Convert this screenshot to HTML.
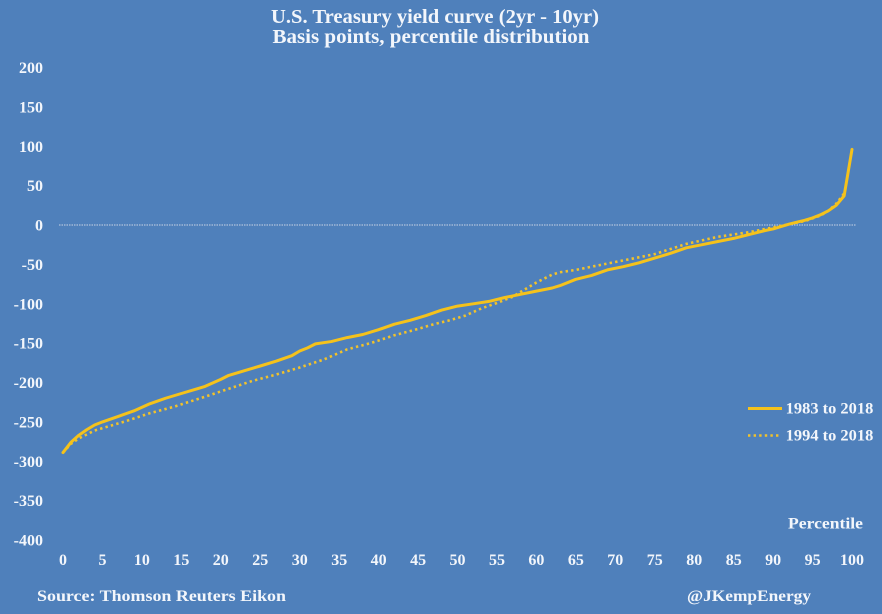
<!DOCTYPE html>
<html>
<head>
<meta charset="utf-8">
<style>
  html, body { margin:0; padding:0; background:#4f80bb; }
  svg { display:block; }
  text { font-family:"Liberation Serif", serif; font-weight:bold; fill:#f3f6fb; }
</style>
</head>
<body>
<svg width="882" height="614" viewBox="0 0 882 614" xmlns="http://www.w3.org/2000/svg">
  <rect x="0" y="0" width="882" height="614" fill="#4f80bb"/>

  <!-- Title -->
  <text x="435" y="23" font-size="20.5" text-anchor="middle" textLength="328" lengthAdjust="spacingAndGlyphs">U.S. Treasury yield curve (2yr - 10yr)</text>
  <text x="431" y="43" font-size="20.5" text-anchor="middle" textLength="317" lengthAdjust="spacingAndGlyphs">Basis points, percentile distribution</text>

  <!-- Y axis labels -->
  <g font-size="16" text-anchor="end">
    <text x="43" y="73">200</text>
    <text x="43" y="112.4">150</text>
    <text x="43" y="151.8">100</text>
    <text x="43" y="191.1">50</text>
    <text x="43" y="230.5">0</text>
    <text x="43" y="269.9">-50</text>
    <text x="43" y="309.3">-100</text>
    <text x="43" y="348.6">-150</text>
    <text x="43" y="388">-200</text>
    <text x="43" y="427.4">-250</text>
    <text x="43" y="466.8">-300</text>
    <text x="43" y="506.1">-350</text>
    <text x="43" y="545.5">-400</text>
  </g>

  <!-- X axis labels -->
  <g font-size="16" text-anchor="middle">
    <text x="63" y="565">0</text>
    <text x="102.5" y="565">5</text>
    <text x="141.9" y="565">10</text>
    <text x="181.4" y="565">15</text>
    <text x="220.8" y="565">20</text>
    <text x="260.3" y="565">25</text>
    <text x="299.7" y="565">30</text>
    <text x="339.2" y="565">35</text>
    <text x="378.6" y="565">40</text>
    <text x="418.1" y="565">45</text>
    <text x="457.5" y="565">50</text>
    <text x="497" y="565">55</text>
    <text x="536.4" y="565">60</text>
    <text x="575.9" y="565">65</text>
    <text x="615.3" y="565">70</text>
    <text x="654.8" y="565">75</text>
    <text x="694.2" y="565">80</text>
    <text x="733.7" y="565">85</text>
    <text x="773.1" y="565">90</text>
    <text x="812.6" y="565">95</text>
    <text x="852" y="565">100</text>
  </g>

  <!-- Zero line -->
  <line x1="59" y1="225" x2="856" y2="225" stroke="#c9d3e4" stroke-width="1" stroke-dasharray="1.5 1"/>

  <!-- 1994 to 2018 dotted -->
  <polyline fill="none" stroke="#f2c22a" stroke-width="2.6" stroke-dasharray="2.4 3.2" stroke-linejoin="round"
    points="63,452.6 70.89,443.9 78.78,438.4 86.67,434.5 94.56,430.5 110.34,425.8 126.12,421.1 149.79,413.2 173.46,406.9 205.02,396.7 228.69,388.8 252.36,380.9 276.03,374.6 299.7,367.5 323.37,359.7 347.04,349.4 370.71,343.1 394.38,335.25 418.05,328.95 433.83,324.2 449.61,320.3 465.39,315.6 481.17,308.5 496.95,303 512.73,296.7 520.62,291.9 536.4,282.5 544.29,278.5 552.18,274.6 560.07,272.25 575.85,269.9 591.63,266.7 615.3,262 631.08,258.9 654.75,254.1 686.31,243.9 717.87,236.8 749.43,232.1 773.1,227.4 788.88,224.2 804.66,221.1 820.44,215.6 828.33,210.8 836.22,203.7 844.11,193.5"/>

  <!-- 1983 to 2018 solid -->
  <polyline fill="none" stroke="#f5c21b" stroke-width="3" stroke-linejoin="round" stroke-linecap="round"
    points="63,452.6 70.89,442.4 78.78,435.3 86.67,429.75 94.56,425 102.45,421.9 118.23,416.4 134.01,410.85 149.79,403.8 165.57,398.25 181.35,393.5 197.13,388.8 205.02,386.4 220.8,379.35 228.69,375.4 244.47,370.7 260.25,366 276.03,361.2 291.81,355.7 299.7,351 307.59,347.85 315.48,343.9 331.26,341.55 347.04,337.6 362.82,334.5 378.6,329.7 394.38,324.2 410.16,320.3 425.94,315.6 441.72,310.1 457.5,306.1 473.28,303.8 489.06,301.4 504.84,297.5 520.62,294.3 536.4,291.15 552.18,288 560.07,285.6 575.85,279.3 591.63,275.4 607.41,269.9 623.19,266.7 638.97,262.8 654.75,258.1 670.53,253.35 686.31,247.8 702.09,244.7 717.87,241.5 733.65,238.4 749.43,234.45 765.21,230.5 773.1,228.9 780.99,226.6 788.88,224.2 796.77,222.2 804.66,220.3 812.55,217.9 820.44,214.8 828.33,210.8 836.22,205.3 844.11,195.9 852,149.4"/>

  <!-- Legend -->
  <line x1="748" y1="408.5" x2="782" y2="408.5" stroke="#f5c21b" stroke-width="3"/>
  <text x="785.7" y="413.5" font-size="16" textLength="87.6" lengthAdjust="spacingAndGlyphs">1983 to 2018</text>
  <line x1="748" y1="435.5" x2="779" y2="435.5" stroke="#f2c22a" stroke-width="2.6" stroke-dasharray="2.4 3.2"/>
  <text x="785.7" y="440.5" font-size="16" textLength="87.6" lengthAdjust="spacingAndGlyphs">1994 to 2018</text>

  <!-- Axis title -->
  <text x="788" y="528.3" font-size="16" textLength="75" lengthAdjust="spacingAndGlyphs">Percentile</text>

  <!-- Footer -->
  <text x="37" y="601" font-size="16" textLength="249" lengthAdjust="spacingAndGlyphs">Source: Thomson Reuters Eikon</text>
  <text x="687" y="601" font-size="16" textLength="124" lengthAdjust="spacingAndGlyphs">@JKempEnergy</text>
</svg>
</body>
</html>
